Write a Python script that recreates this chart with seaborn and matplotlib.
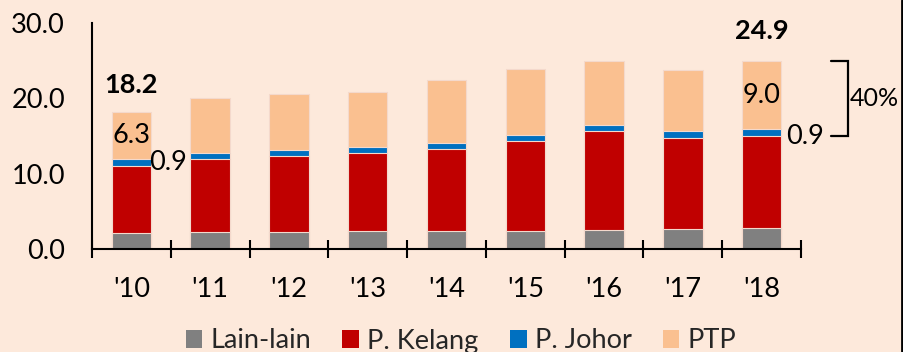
import matplotlib
matplotlib.use("Agg")
import matplotlib.pyplot as plt
from matplotlib.patches import Patch
from matplotlib.lines import Line2D
import numpy as np
import seaborn as sns

# Port throughput by year (stacked components)
years = ["'10", "'11", "'12", "'13", "'14", "'15", "'16", "'17", "'18"]
lain_lain = [2.1, 2.3, 2.3, 2.4, 2.4, 2.4, 2.5, 2.7, 2.8]
p_kelang = [8.9, 9.6, 10.0, 10.3, 10.9, 11.9, 13.2, 12.0, 12.2]
p_johor = [0.9, 0.8, 0.8, 0.8, 0.8, 0.8, 0.8, 0.9, 0.9]
ptp = [6.3, 7.3, 7.5, 7.4, 8.3, 8.8, 8.4, 8.2, 9.0]

series_names = ["Lain-lain", "P. Kelang", "P. Johor", "PTP"]
series_values = [lain_lain, p_kelang, p_johor, ptp]
series_colors = ["#808080", "#C00000", "#0070C0", "#FAC090"]

y_ticks = [0, 10, 20, 30]

BG = "#FDE9DB"
FS = 19.5

sns.set_theme(style="white")
plt.rcParams["font.family"] = ["Lato", "DejaVu Sans"]

fig = plt.figure(figsize=(9.04, 3.52), dpi=100, facecolor=BG)
ax = fig.add_axes([92 / 904, 1 - 249 / 352, 709 / 904, 226 / 352])
ax.set_facecolor(BG)

# stacked bars: draw cumulative totals from the top layer downwards
vals = np.array(series_values)
cum = np.cumsum(vals, axis=0)
for k in range(len(series_names) - 1, -1, -1):
    sns.barplot(x=years, y=cum[k], color=series_colors[k], saturation=1,
                width=0.5, errorbar=None, ax=ax,
                edgecolor="#F4D9CC", linewidth=0.8)

totals = cum[-1]
n = len(years)
ax.set_xlim(-0.5, n - 0.5)
ax.set_ylim(0, 30)
ax.set_yticks(y_ticks)
ax.set_yticklabels([f"{v:.1f}" for v in y_ticks], fontsize=FS)
ax.set_xticks(range(n))
ax.set_xticklabels(years, fontsize=FS)
ax.set_xticks(np.arange(-0.5, n, 1.0), minor=True)
ax.set_xlabel("")
ax.set_ylabel("")

for s in ["top", "right"]:
    ax.spines[s].set_visible(False)
for s in ["left", "bottom"]:
    ax.spines[s].set_color("black")
    ax.spines[s].set_linewidth(1.5)

ax.tick_params(axis="y", which="major", direction="inout", length=13,
               width=1.5, color="black", pad=13, labelcolor="black")
ax.tick_params(axis="x", which="major", length=0, pad=20, labelcolor="black")
ax.tick_params(axis="x", which="minor", direction="inout", length=13,
               width=1.5, color="black", bottom=True)
ax.grid(False)

# total labels on first and last years
for i, dy in ((0, 3.6), (n - 1, 4.0)):
    ax.text(i, totals[i] + dy, f"{totals[i]:.1f}", ha="center", va="center",
            fontsize=FS, fontweight="bold", color="black")

# PTP values inside the segment, P. Johor values beside the bar
for i in (0, n - 1):
    ptp_mid = cum[2][i] + ptp[i] / 2
    ax.text(i, ptp_mid, f"{ptp[i]:.1f}", ha="center", va="center",
            fontsize=FS, color="black")
johor_offsets = {0: (0.23, 0.0), n - 1: (0.31, -0.55)}
for i, (dx, dy) in johor_offsets.items():
    jm = cum[1][i] + p_johor[i] / 2
    ax.text(i + dx, jm + dy, f"{p_johor[i]:.1f}", ha="left", va="center",
            fontsize=FS, color="black")

# bracket showing the share of P. Johor + PTP in the last year
last = n - 1
b_top = totals[last]
b_bot = cum[1][last]
bx0, bx1 = last + 0.877, last + 1.093
ax.plot([bx0, bx1, bx1, bx0], [b_top, b_top, b_bot, b_bot],
        color="black", lw=1.6, clip_on=False, solid_joinstyle="miter")
share = (p_johor[last] + ptp[last]) / totals[last] * 100
ax.text(bx1 + 0.03, (b_top + b_bot) / 2, f"{share:.0f}%", ha="left",
        va="center", fontsize=FS - 1.5, color="black", clip_on=False)

# legend across the bottom
handles = [Patch(facecolor=c, edgecolor="none") for c in series_colors]
fig.legend(handles, series_names, loc="center", ncol=4, frameon=False,
           bbox_to_anchor=(461 / 904, 1 - 341 / 352), fontsize=FS,
           handlelength=0.62, handleheight=0.62, handletextpad=0.3,
           columnspacing=1.15, borderaxespad=0, borderpad=0)

# right-hand frame edge
fig.add_artist(Line2D([0.9975, 0.9975], [0, 1], transform=fig.transFigure,
                      color="black", lw=2))

fig.savefig("out.png", dpi=100, facecolor=BG)
